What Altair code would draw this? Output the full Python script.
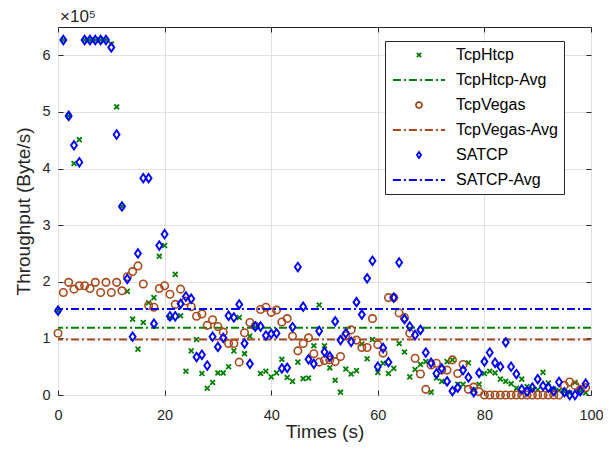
import altair as alt
import pandas as pd

times = list(range(100))

tcphtcp = [1.49, 6.27, 4.93, 4.09, 4.51, 6.27, 6.27, 6.27, 6.27, 6.27,
           6.20, 5.09, 3.33, 1.83, 1.34, 0.81, 1.28, 1.63, 1.72, 2.45,
           2.64, 1.37, 2.13, 1.40, 0.42, 0.78, 0.98, 0.38, 0.12, 0.22,
           0.39, 0.39, 0.50, 0.78, 1.37, 0.73, 1.04, 1.20, 0.38, 0.42,
           0.32, 0.39, 0.63, 0.31, 0.24, 0.58, 0.29, 0.30, 0.87, 1.59,
           0.87, 0.48, 0.26, 0.05, 0.46, 0.37, 0.43, 0.90, 0.64, 0.98,
           0.40, 0.56, 0.38, 0.47, 0.91, 0.76, 0.32, 0.45, 0.54, 0.59,
           0.05, 0.30, 0.24, 0.59, 0.62, 0.19, 0.19, 0.57, 0.09, 0.19,
           0.38, 0.42, 0.39, 0.28, 0.24, 0.20, 0.12, 0.28, 0.15, 0.10,
           0.09, 0.40, 0.21, 0.10, 0.08, 0.06, 0.04, 0.22, 0.08, 0.04]

tcpvegas = [1.09, 1.81, 1.99, 1.87, 1.93, 1.93, 1.88, 1.99, 1.81, 1.99,
            1.81, 1.99, 1.84, 2.09, 2.18, 2.28, 1.96, 1.58, 1.55, 1.88,
            1.93, 1.78, 1.60, 1.87, 1.66, 1.56, 1.39, 1.43, 1.23, 1.33,
            1.21, 1.11, 0.91, 0.91, 0.58, 1.10, 1.28, 1.22, 1.51, 1.55,
            1.46, 1.50, 1.29, 1.35, 1.04, 0.78, 0.91, 1.01, 0.73, 0.58,
            0.61, 0.62, 0.59, 0.68, 1.05, 1.15, 0.97, 0.84, 0.84, 1.35,
            0.89, 0.74, 1.72, 1.72, 1.45, 1.37, 1.09, 0.65, 0.37, 0.10,
            0.53, 0.56, 0.44, 0.44, 0.62, 0.38, 0.54, 0.10, 0.14, 0.06,
            0.00, 0.00, 0.00, 0.00, 0.00, 0.00, 0.00, 0.00, 0.00, 0.00,
            0.00, 0.00, 0.00, 0.00, 0.00, 0.17, 0.23, 0.17, 0.10, 0.13]

satcp = [1.49, 6.27, 4.93, 4.41, 4.11, 6.27, 6.27, 6.27, 6.27, 6.27,
         6.14, 4.60, 3.33, 2.05, 1.03, 2.50, 3.83, 3.83, 1.26, 2.64,
         2.84, 1.39, 1.39, 1.61, 1.74, 1.70, 0.67, 0.71, 0.52, 1.03,
         0.85, 1.01, 1.40, 1.37, 1.60, 0.91, 0.55, 1.21, 1.21, 1.05,
         1.08, 1.09, 0.47, 0.48, 1.20, 2.26, 1.56, 0.63, 0.55, 1.13,
         0.76, 0.68, 1.30, 0.97, 1.09, 0.94, 1.64, 1.42, 2.06, 2.37,
         0.50, 0.83, 0.58, 1.72, 2.34, 1.34, 1.21, 1.06, 1.15, 0.75,
         0.57, 0.38, 0.47, 0.24, 0.07, 0.13, 0.44, 0.31, 0.05, 0.39,
         0.59, 0.75, 0.57, 0.50, 0.93, 0.50, 0.37, 0.10, 0.06, 0.13,
         0.28, 0.16, 0.13, 0.07, 0.23, 0.05, 0.00, 0.00, 0.07, 0.20]

avg_names = ["TcpHtcp-Avg", "TcpVegas-Avg", "SATCP-Avg"]
avg_values = [1.19, 0.98, 1.52]

x_ticks = [0, 20, 40, 60, 80, 100]
y_ticks = [0, 1, 2, 3, 4, 5, 6]
SCALE = 1e5

series = ["TcpHtcp", "TcpHtcp-Avg", "TcpVegas", "TcpVegas-Avg", "SATCP", "SATCP-Avg"]
colors = ["#008000", "#008000", "#A84A1C", "#A84A1C", "#0000FF", "#0000FF"]
X_PATH = "M-0.7,-0.7L0.7,0.7M-0.7,0.7L0.7,-0.7"
DIAMOND = "M0,-1L0.7,0L0,1L-0.7,0Z"
LINE_PATH = "M-8.7,0L8.7,0"
shapes = [X_PATH, LINE_PATH, "circle", LINE_PATH, DIAMOND, LINE_PATH]
DASH = [8, 3, 2, 3]
dashes = [[1, 0], DASH, [1, 0], DASH, [1, 0], DASH]

rows = []
for name, vals in [("TcpHtcp", tcphtcp), ("TcpVegas", tcpvegas), ("SATCP", satcp)]:
    for t, v in zip(times, vals):
        rows.append({"series": name, "t": t, "value": v * SCALE})
points = pd.DataFrame(rows)
avgs = pd.DataFrame({"series": avg_names, "value": [v * SCALE for v in avg_values]})

FONT = "Liberation Sans"
TXT = "#262626"

legend = alt.Legend(
    title=None, orient="none", legendX=327, legendY=14,
    padding=6, rowPadding=9, symbolSize=36, symbolStrokeWidth=1.8,
    symbolOffset=20, labelOffset=29, labelFont=FONT, labelFontSize=16,
    labelColor="#000000", strokeColor="#262626", fillColor="#ffffff",
    labelExpr="datum.label + '         '", labelLimit=400,
)

color_enc = alt.Color("series:N", scale=alt.Scale(domain=series, range=colors), legend=legend)
shape_enc = alt.Shape("series:N", scale=alt.Scale(domain=series, range=shapes), legend=legend)
dash_enc = alt.StrokeDash("series:N", scale=alt.Scale(domain=series, range=dashes), legend=legend)

xscale = alt.Scale(domain=[0, 100], nice=False, zero=False)
yscale = alt.Scale(domain=[0, 6.5 * SCALE], nice=False)

x_main = alt.X("t:Q", scale=xscale, title="Times (s)",
               axis=alt.Axis(values=x_ticks, grid=True, offset=-5, tickSize=5, domain=False,
                             labelFlush=False, labelPadding=13, titlePadding=1))
y_main = alt.Y("value:Q", scale=yscale, title="Throughput (Byte/s)",
               axis=alt.Axis(values=[v * SCALE for v in y_ticks], grid=True, offset=-5, tickSize=5,
                             domain=False, labelFlush=False, labelPadding=8, titlePadding=8,
                             labelExpr="datum.value / 100000"))

base = alt.Chart(points)


def point_layer(name, size, sw):
    return base.transform_filter(alt.datum.series == name).mark_point(
        filled=False, size=size, strokeWidth=sw, opacity=1
    ).encode(
        x=x_main if name == "TcpHtcp" else alt.X("t:Q", scale=xscale, axis=None),
        y=y_main if name == "TcpHtcp" else alt.Y("value:Q", scale=yscale, axis=None),
        color=color_enc, shape=shape_enc,
    )


def avg_layer(name):
    return alt.Chart(avgs).transform_filter(alt.datum.series == name).mark_rule(
        strokeWidth=2
    ).encode(
        y=alt.Y("value:Q", scale=yscale, axis=None),
        color=color_enc, strokeDash=dash_enc,
    )


frame = base.mark_point(opacity=0).encode(
    x=alt.X("t:Q", scale=xscale,
            axis=alt.Axis(orient="top", values=x_ticks, labels=False, grid=False, domain=False,
                          offset=-5, tickSize=5, title=None)),
    y=alt.Y("value:Q", scale=yscale,
            axis=alt.Axis(orient="right", values=[v * SCALE for v in y_ticks], labels=False,
                          grid=False, domain=False, offset=-5, tickSize=5, title=None)),
)

chart = alt.layer(
    point_layer("TcpHtcp", 48, 1.8),
    avg_layer("TcpHtcp-Avg"),
    point_layer("TcpVegas", 56, 1.6),
    avg_layer("TcpVegas-Avg"),
    point_layer("SATCP", 72, 1.9),
    avg_layer("SATCP-Avg"),
    frame,
).resolve_axis(x="independent", y="independent").properties(
    width=533, height=368,
    autosize=alt.AutoSizeParams(type="none"),
    padding={"left": 50, "top": 19, "right": 12, "bottom": 54},
    title=alt.TitleParams("×10⁵", anchor="start", frame="group", font=FONT, fontSize=17,
                          fontWeight="normal", color=TXT, offset=1, dx=2),
).configure_view(stroke="#262626", strokeWidth=1).configure_axis(
    labelFont=FONT, labelFontSize=14.5, labelColor=TXT, titleFont=FONT, titleFontSize=19,
    titleFontWeight="normal", titleColor=TXT, tickColor="#262626", tickWidth=1,
    gridColor="#e1e1e1", gridWidth=1,
)

chart.save("out.html", embed_options={"renderer": "svg", "actions": False})
